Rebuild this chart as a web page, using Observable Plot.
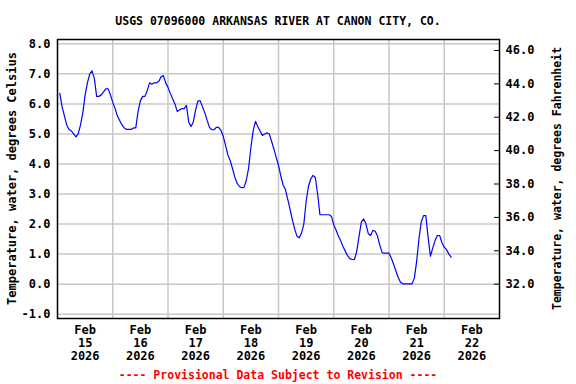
<!DOCTYPE html>
<html>
<head>
<meta charset="utf-8">
<script src="https://cdn.jsdelivr.net/npm/d3@7"></script>
<script src="https://cdn.jsdelivr.net/npm/@observablehq/plot@0.6"></script>
<style>
  html, body { margin: 0; padding: 0; background: #fff; }
  #chart svg { display: block; }
</style>
</head>
<body>
<div id="chart"></div>
<script>
// ---- data ----
const titleText = "USGS 07096000 ARKANSAS RIVER AT CANON CITY, CO.";
const leftLabel = "Temperature, water, degrees Celsius";
const rightLabel = "Temperature, water, degrees Fahrenheit";
const captionText = "---- Provisional Data Subject to Revision ----";

const startTime = "2026-02-14T13:00";   // first reading, then hourly
const stepHours = 1;
const tempC = [
  6.35, 5.9, 5.6, 5.3, 5.15, 5.1, 5.0, 4.9, 5.0, 5.3,
  5.7, 6.3, 6.7, 7.0, 7.1, 6.85, 6.25, 6.25, 6.3, 6.4,
  6.5, 6.5, 6.3, 6.05, 5.85, 5.6, 5.45, 5.3, 5.2, 5.15,
  5.15, 5.15, 5.2, 5.2, 5.75, 6.1, 6.25, 6.25, 6.45, 6.7,
  6.65, 6.7, 6.7, 6.75, 6.9, 6.94, 6.7, 6.55, 6.35, 6.17,
  6.0, 5.75, 5.8, 5.84, 5.84, 5.95, 5.4, 5.25, 5.4, 5.8,
  6.1, 6.1, 5.9, 5.7, 5.45, 5.22, 5.14, 5.14, 5.22, 5.22,
  5.12, 4.92, 4.62, 4.3, 4.12, 3.85, 3.57, 3.36, 3.25, 3.21,
  3.22, 3.45, 3.85, 4.55, 5.1, 5.42, 5.25, 5.1, 4.95, 5.0,
  5.04, 5.0, 4.75, 4.5, 4.22, 3.95, 3.6, 3.3, 3.15, 2.83,
  2.5, 2.15, 1.84, 1.6, 1.54, 1.7, 2.0, 2.75, 3.25, 3.5,
  3.62, 3.55, 3.0, 2.31, 2.31, 2.31, 2.31, 2.31, 2.25, 1.98,
  1.8, 1.6, 1.45, 1.25, 1.1, 0.95, 0.85, 0.82, 0.82, 1.1,
  1.6, 2.07, 2.17, 2.0, 1.68, 1.62, 1.79, 1.76, 1.6, 1.3,
  1.05, 1.03, 1.03, 1.03, 0.87, 0.66, 0.44, 0.22, 0.06, 0.01,
  0.01, 0.01, 0.01, 0.01, 0.2, 0.75, 1.5, 2.07, 2.28, 2.28,
  1.55, 0.93, 1.2, 1.45, 1.62, 1.62, 1.38, 1.23, 1.15, 1.0,
  0.9
];

const xDomain = ["2026-02-14T12:00", "2026-02-22T12:00"];
const xTickDates = ["2026-02-15", "2026-02-16", "2026-02-17", "2026-02-18",
                    "2026-02-19", "2026-02-20", "2026-02-21", "2026-02-22"];
const xTickMonth = "Feb";
const xTickYear = "2026";
const xGridDates = ["2026-02-15T12:00", "2026-02-16T12:00", "2026-02-17T12:00",
                    "2026-02-18T12:00", "2026-02-19T12:00", "2026-02-20T12:00",
                    "2026-02-21T12:00"];
const yTicksC = [-1, 0, 1, 2, 3, 4, 5, 6, 7, 8];
const yTicksF = [32, 34, 36, 38, 40, 42, 44, 46];
const yDomain = [-1.143, 8.143];

// ---- build ----
const parse = s => new Date(s.length === 10 ? s + "T00:00" : s);
const t0 = parse(startTime);
const rows = tempC.map((v, i) => ({t: d3.timeHour.offset(t0, i * stepHours), v}));
const toC = f => (f - 32) / 1.8;

const W = 576, H = 384;
const mL = 57, mR = 77, mT = 39, mB = 66;
const font = "'DejaVu Sans Mono', 'Liberation Mono', monospace";

const plot = Plot.plot({
  width: W,
  height: H,
  marginLeft: mL,
  marginRight: mR,
  marginTop: mT,
  marginBottom: mB,
  style: {fontFamily: font, fontWeight: "bold", fontSize: "12px", background: "#fff"},
  x: {type: "time", domain: xDomain.map(parse)},
  y: {domain: yDomain},
  marks: [
    Plot.gridX(xGridDates.map(parse), {stroke: "#c8c8c8", strokeOpacity: 1, strokeWidth: 1.5}),
    Plot.gridY(yTicksC, {stroke: "#c8c8c8", strokeOpacity: 1, strokeWidth: 1.5}),
    Plot.axisY({
      anchor: "left", ticks: yTicksC, tickSize: 0, tickPadding: 7,
      tickFormat: d => d.toFixed(1), label: null, fontSize: 12, fontWeight: "bold"
    }),
    Plot.axisY({
      anchor: "right", ticks: yTicksF.map(toC), tickSize: 0, tickPadding: 6,
      tickFormat: c => (c * 1.8 + 32).toFixed(1), label: null, fontSize: 12, fontWeight: "bold"
    }),
    Plot.tickY(yTicksF.map(toC), {stroke: "black", strokeWidth: 1, insetLeft: W - mL - mR - 5}),
    Plot.axisX({
      anchor: "bottom", ticks: xTickDates.map(parse), tickSize: 0, tickPadding: 6,
      tickFormat: d => `${xTickMonth}\n${d.getDate()}\n${xTickYear}`,
      lineHeight: 1.08, label: null, fontSize: 12, fontWeight: "bold"
    }),
    Plot.line(rows, {x: "t", y: "v", stroke: "#0000ff", strokeWidth: 1.2, curve: "linear"}),
    Plot.frame({stroke: "black", strokeWidth: 1.5})
  ]
});

const svg = d3.select(plot);
const cx = mL + (W - mL - mR) / 2;
const cy = mT + (H - mT - mB) / 2;
svg.append("text")
  .attr("x", cx).attr("y", 21).attr("text-anchor", "middle").attr("dominant-baseline", "middle")
  .style("font-family", font).style("font-weight", "bold").style("font-size", "11.5px")
  .text(titleText);
svg.append("text")
  .attr("transform", `translate(12,${cy}) rotate(-90)`)
  .attr("text-anchor", "middle").attr("dominant-baseline", "middle")
  .style("font-family", font).style("font-weight", "bold").style("font-size", "12px")
  .text(leftLabel);
svg.append("text")
  .attr("transform", `translate(557,${cy}) rotate(-90)`)
  .attr("text-anchor", "middle").attr("dominant-baseline", "middle")
  .style("font-family", font).style("font-weight", "bold").style("font-size", "11.5px")
  .text(rightLabel);
svg.append("text")
  .attr("x", cx).attr("y", 375).attr("text-anchor", "middle").attr("dominant-baseline", "middle")
  .style("font-family", font).style("font-weight", "bold").style("font-size", "11.5px")
  .attr("fill", "#ff0000")
  .text(captionText);

document.getElementById("chart").appendChild(plot);
</script>
</body>
</html>
